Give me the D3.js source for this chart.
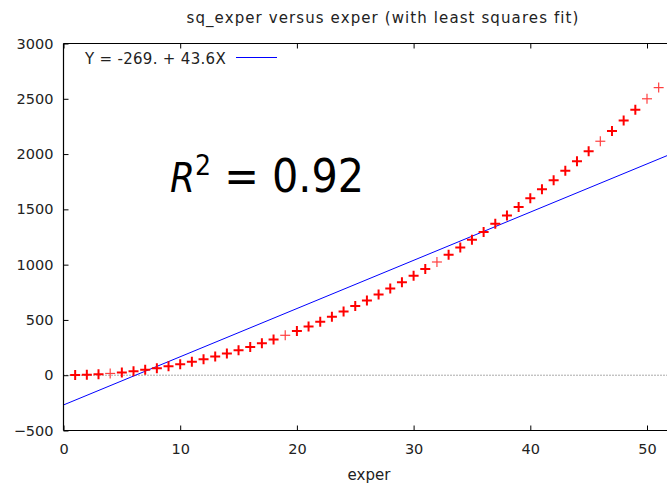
<!DOCTYPE html>
<html>
<head>
<meta charset="utf-8">
<script src="https://cdn.jsdelivr.net/npm/d3@7"></script>
<style>
  body { margin: 0; background: #fff; }
  svg { display: block; font-family: "DejaVu Sans", Verdana, sans-serif; }
</style>
</head>
<body>
<div id="chart"></div>
<script>
// observations: exper and sq_exper
var exper = [1,2,3,4,5,6,7,8,9,10,11,12,13,14,15,16,17,18,19,20,21,22,23,24,25,26,
    27,28,29,30,31,32,33,34,35,36,37,38,39,40,41,42,43,44,45,46,47,48,49,50,51];
var sqExper = [1,4,9,16,25,36,49,64,81,100,121,144,169,196,225,256,289,324,361,400,
    441,484,529,576,625,676,729,784,841,900,961,1024,1089,1156,1225,1296,1369,1444,
    1521,1600,1681,1764,1849,1936,2025,2116,2209,2304,2401,2500,2601];
// values with few observations (drawn lighter)
var sparse = [4, 19, 32, 46, 50, 51];
var fitIntercept = -269.0, fitSlope = 43.6;
var rSquared = "0.92";
var xTicks = [0, 10, 20, 30, 40, 50];
var yTicks = [-500, 0, 500, 1000, 1500, 2000, 2500, 3000];

var W = 667, H = 483;
var mLeft = 63.5, mTop = 43.5, mBottom = 430.5;
var svg = d3.select('#chart').append('svg').attr('width', W).attr('height', H);

var x = d3.scaleLinear().domain([0, 52]).range([mLeft, mLeft + 52 * 11.67]);
var y = d3.scaleLinear().domain([-500, 3000]).range([mBottom, mTop]);

svg.append('clipPath').attr('id', 'clip')
    .append('rect').attr('x', mLeft).attr('y', mTop).attr('width', W - mLeft).attr('height', mBottom - mTop);

// zero line
svg.append('line')
    .attr('x1', mLeft).attr('x2', W)
    .attr('y1', y(0)).attr('y2', y(0))
    .attr('stroke', '#555').attr('stroke-dasharray', '1,2').attr('stroke-width', 1);

// fitted line
svg.append('line')
    .attr('clip-path', 'url(#clip)')
    .attr('x1', x(0)).attr('y1', y(fitIntercept))
    .attr('x2', x(52)).attr('y2', y(fitIntercept + fitSlope * 52))
    .attr('stroke', '#0000ff').attr('stroke-width', 1);

// points
var pts = svg.append('g').attr('clip-path', 'url(#clip)');
exper.forEach(function(e, i) {
    var thin = sparse.indexOf(e) >= 0;
    var cx = x(e), cy = y(sqExper[i]), r = 5;
    var g = pts.append('g')
        .attr('stroke', '#ff0000')
        .attr('stroke-width', thin ? 1.2 : 2)
        .attr('opacity', thin ? 0.75 : 1);
    g.append('line').attr('x1', cx - r).attr('x2', cx + r).attr('y1', cy).attr('y2', cy);
    g.append('line').attr('x1', cx).attr('x2', cx).attr('y1', cy - r).attr('y2', cy + r);
});

// axes frame
var frame = svg.append('g').attr('stroke', '#000').attr('stroke-width', 1.2);
frame.append('line').attr('x1', mLeft).attr('x2', mLeft).attr('y1', mTop).attr('y2', mBottom);
frame.append('line').attr('x1', mLeft).attr('x2', W).attr('y1', mTop).attr('y2', mTop);
frame.append('line').attr('x1', mLeft).attr('x2', W).attr('y1', mBottom).attr('y2', mBottom);

var yAxis = d3.axisLeft(y).tickValues(yTicks).tickSize(-5).tickPadding(10).tickFormat(d3.format('d'));
var xAxis = d3.axisBottom(x).tickValues(xTicks).tickSize(-5).tickPadding(13).tickFormat(d3.format('d'));
var xTop = d3.axisTop(x).tickValues(xTicks).tickSize(-5).tickFormat('');

function style(g) {
    g.select('.domain').remove();
    g.selectAll('line').attr('stroke', '#000');
    g.selectAll('text').attr('fill', '#222').style('font-size', '14.5px')
        .style('font-family', '"DejaVu Sans", Verdana, sans-serif');
}
svg.append('g').attr('transform', 'translate(' + mLeft + ',0)').call(yAxis).call(style);
svg.append('g').attr('transform', 'translate(0,' + mBottom + ')').call(xAxis).call(style);
svg.append('g').attr('transform', 'translate(0,' + mTop + ')').call(xTop).call(style);

// title and axis label
svg.append('text').attr('x', 383).attr('y', 23).attr('text-anchor', 'middle')
    .style('font-size', '15px').style('letter-spacing', '1.1px').attr('fill', '#222')
    .text('sq_exper versus exper (with least squares fit)');
svg.append('text').attr('x', 369).attr('y', 480).attr('text-anchor', 'middle')
    .style('font-size', '15px').attr('fill', '#222').text('exper');

// legend
svg.append('text').attr('x', 85).attr('y', 64).style('font-size', '15px').attr('fill', '#222')
    .style('letter-spacing', '0.3px')
    .text('Y = ' + fitIntercept.toFixed(0) + '. + ' + fitSlope + 'X');
svg.append('line').attr('x1', 236).attr('x2', 277).attr('y1', 57.5).attr('y2', 57.5)
    .attr('stroke', '#0000ff').attr('stroke-width', 1);

// R squared annotation
var r2 = svg.append('text').attr('x', 170).attr('y', 192)
    .style('font-family', '"DejaVu Sans Condensed", "DejaVu Sans", sans-serif')
    .style('font-size', '46px').attr('fill', '#000');
r2.append('tspan').style('font-style', 'italic').style('font-size', '40px').text('R');
r2.append('tspan').attr('dy', -17).style('font-size', '28px').text('2');
r2.append('tspan').attr('dy', 17).text(' = ' + rSquared);
</script>
</body>
</html>
